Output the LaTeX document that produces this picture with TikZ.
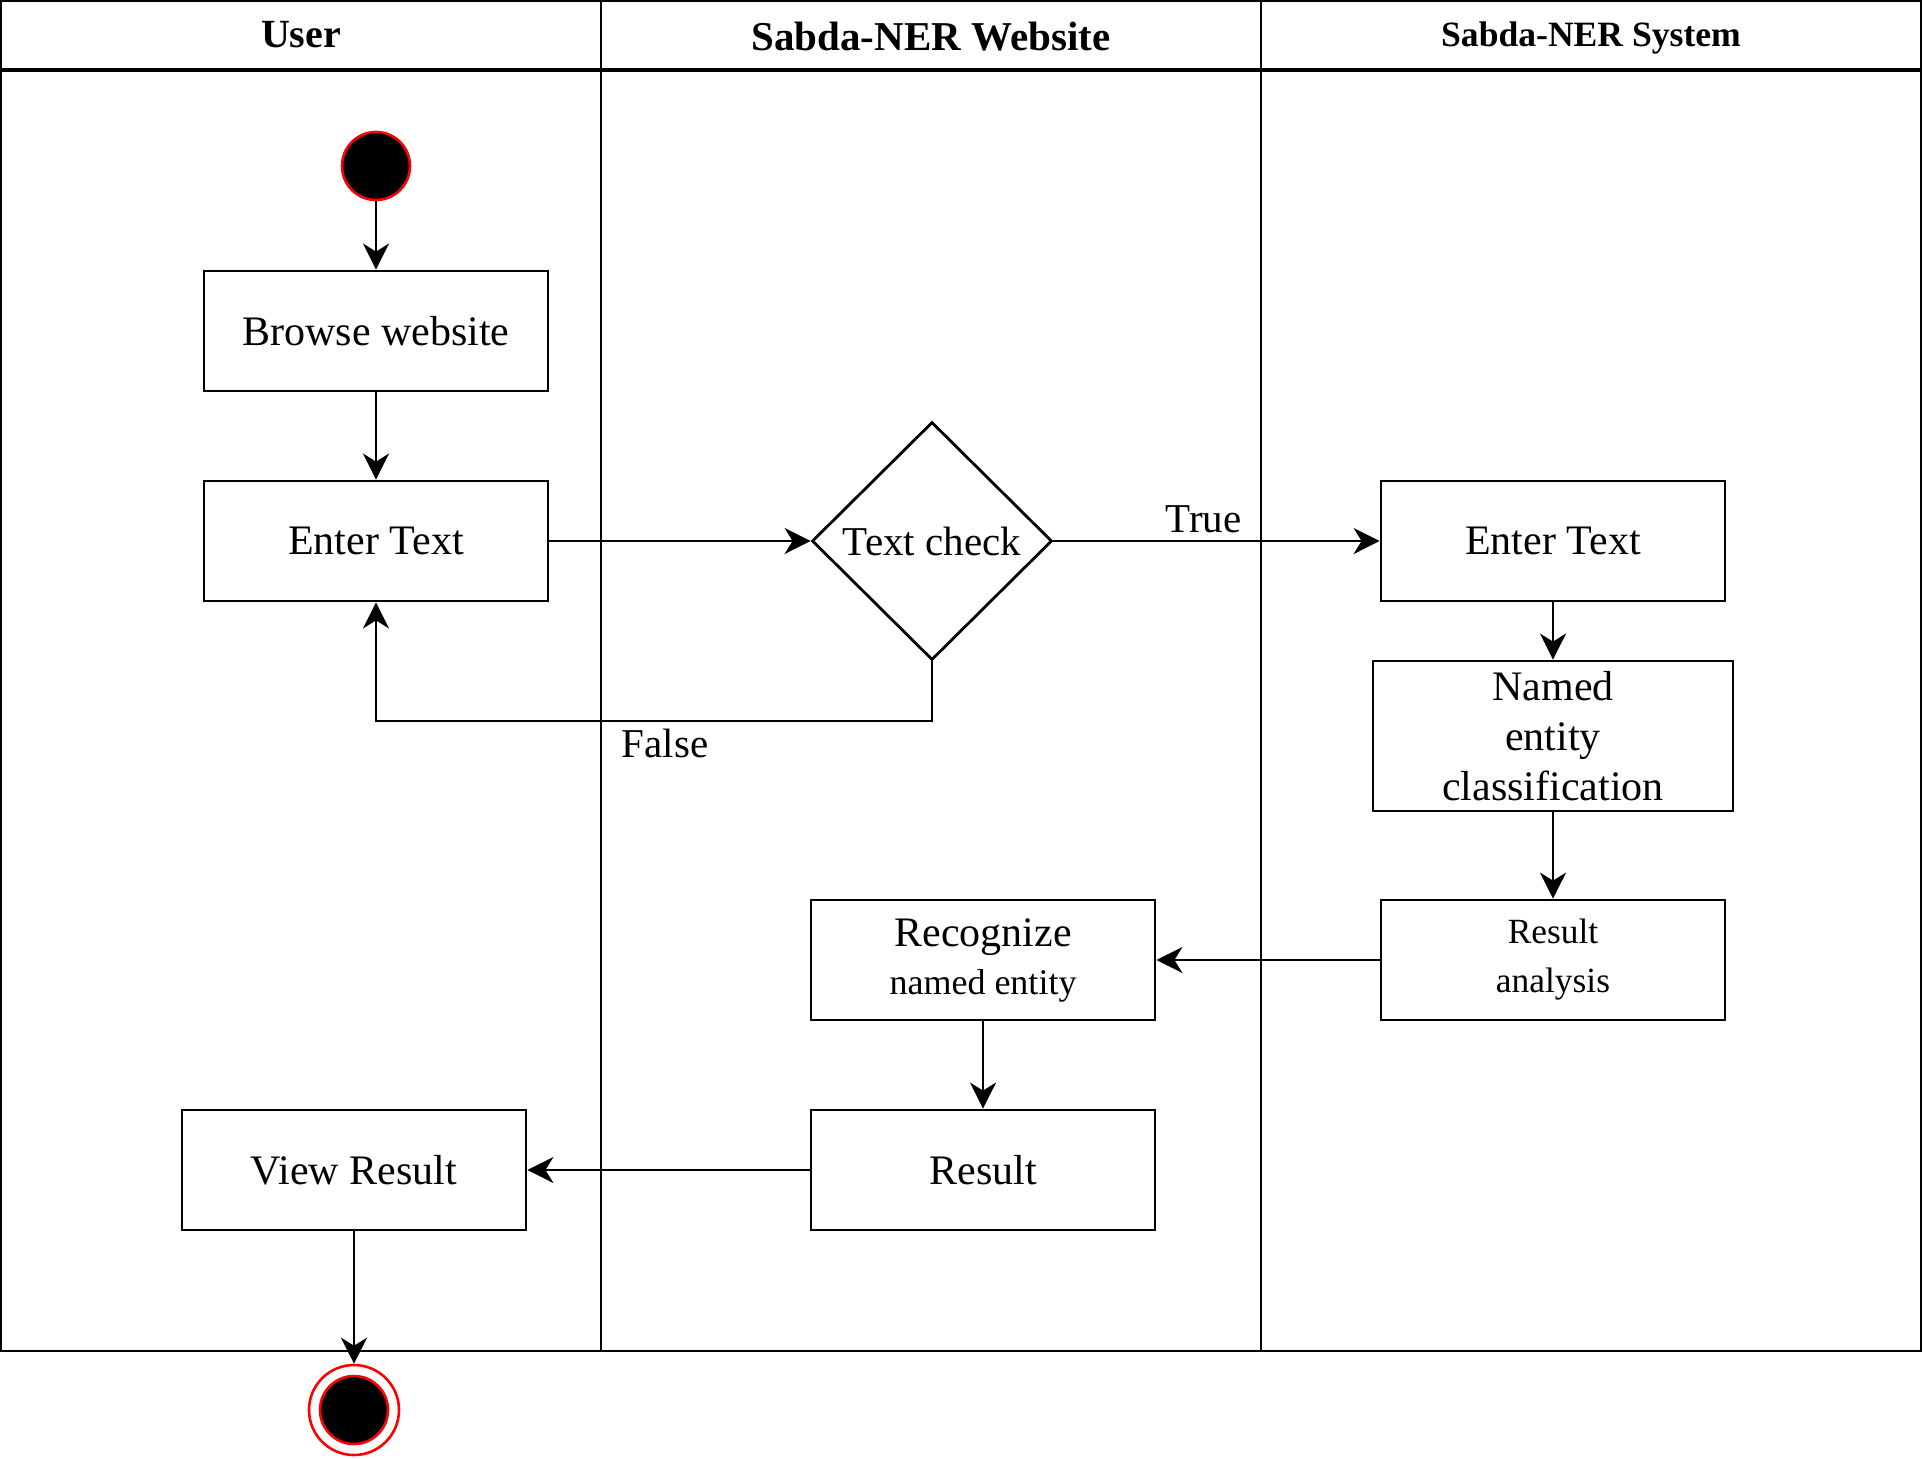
\documentclass[tikz,border=0pt]{standalone}
\usepackage{fontspec}
\setmainfont{Liberation Serif}
\usetikzlibrary{shapes.geometric,arrows.meta,positioning}

\tikzset{
    act/.style={draw, line width=1.4pt, minimum width=172pt, minimum height=60pt,
        inner sep=2pt, align=center, font=\fontsize{21}{25}\selectfont},
    decide/.style={draw, diamond, line width=1.4pt, minimum width=120pt,
        minimum height=119pt, inner sep=0pt, font=\fontsize{20.5}{25}\selectfont},
    flow/.style={line width=1.4pt, -{Stealth[length=13pt,width=13pt,inset=4pt]}},
    lane/.style={line width=1.4pt},
    lanehead/.style={font=\bfseries\fontsize{20.5}{24}\selectfont},
    guard/.style={font=\fontsize{20.5}{24}\selectfont},
}

\begin{document}
\begin{tikzpicture}[x=0.5pt,y=-0.5pt]
    \useasboundingbox (0,0) rectangle (1923,1458);
    \def\laneA{601}
    \def\laneB{1261}
    \def\headh{70}
    \def\laneh{1351}

    % Swimlanes
    \draw[lane] (1,1) rectangle (1921,\laneh);
    \draw[line width=1.7pt] (1,\headh) -- (1921,\headh);
    \foreach \x in {\laneA, \laneB} {
        \draw[lane] (\x,1) -- (\x,\laneh);
    }
    \node[lanehead, font=\bfseries\fontsize{20}{24}\selectfont] (hUser) at (301,35) {User};
    \node[lanehead] (hWeb) at (931,37) {Sabda-NER Website};
    \node[lanehead, font=\bfseries\fontsize{17.8}{22}\selectfont] (hSys) at (1591,38) {Sabda-NER System};

    % Start / end
    \node[circle, fill=black, draw=red, line width=1.3pt, minimum size=34pt, inner sep=0pt]
        (start) at (376,166) {};
    \node[circle, draw=red, line width=1.3pt, minimum size=45pt, inner sep=0pt]
        (finish) at (354,1410) {};
    \node[circle, fill=black, draw=red, line width=1.3pt, minimum size=34pt, inner sep=0pt]
        (finishIn) at (354,1410) {};

    % User lane
    \node[act] (browse) at (376,331) {Browse website};
    \node[act] (enterU) at (376,541) {Enter Text};
    \node[act] (view)   at (354,1170) {View Result};

    % Website lane
    \node[decide] (check) at (932,541) {Text check};
    \node[act] (recog) at (983,960)
        {Recognize\\[-1pt]{\fontsize{18}{24}\selectfont named entity}};
    \node[act] (result) at (983,1170) {Result};

    % System lane
    \node[act] (enterS) at (1553,541) {Enter Text};
    \node[act, minimum width=180pt, minimum height=75pt] (classify) at (1553,736)
        {Named\\entity\\classification};
    \node[act, font=\fontsize{17.7}{24.5}\selectfont] (analysis) at (1553,960)
        {Result\\analysis};

    % Flows
    \coordinate (back) at (932,721);
    \draw[flow] (start) -- (browse);
    \draw[flow] (browse) -- (enterU);
    \draw[flow] (enterU) -- (check);
    \draw[flow] (check) -- node[guard, above, pos=0.46] (lTrue) {True} (enterS);
    \draw[flow] (check) -- (back) -| node[guard, below, pos=0.24] (lFalse) {False} (enterU);
    \draw[flow] (enterS) -- (classify);
    \draw[flow] (classify) -- (analysis);
    \draw[flow] (analysis) -- (recog);
    \draw[flow] (recog) -- (result);
    \draw[flow] (result) -- (view);
    \draw[flow] (view) -- (finish);
\end{tikzpicture}
\end{document}
